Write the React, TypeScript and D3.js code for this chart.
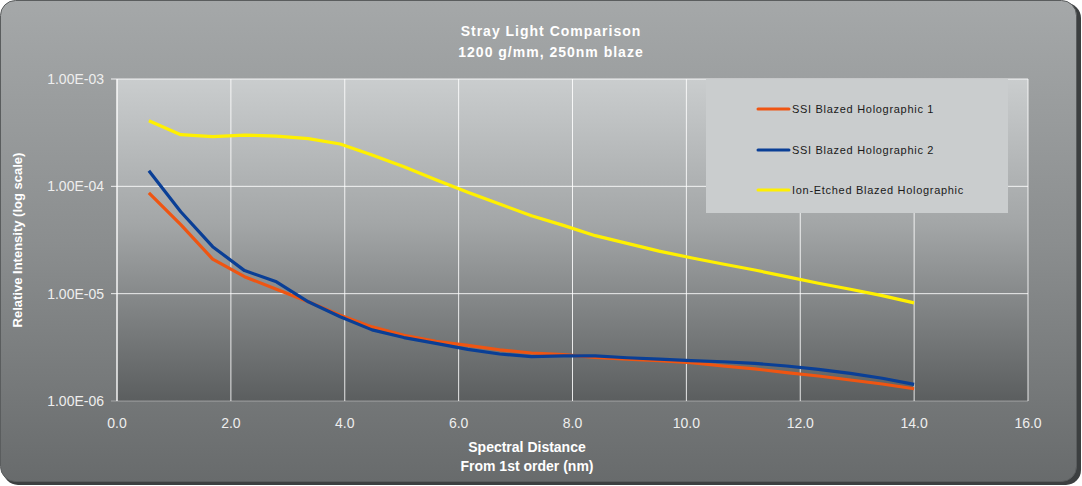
import * as d3 from "d3";

const WIDTH = 1082;
const HEIGHT = 486;
const PLOT = { left: 117, right: 1028, top: 79, bottom: 401 };

// Spectral distance from 1st order (nm), one sample every 0.56 nm.
const distances = [
  0.56, 1.12, 1.68, 2.24, 2.8, 3.36, 3.92, 4.48, 5.04, 5.6, 6.16, 6.72, 7.28,
  7.84, 8.4, 8.96, 9.52, 10.08, 10.64, 11.2, 11.76, 12.32, 12.88, 13.44, 14.0,
];

const ssiHolo1 = [
  8.7e-5, 4.4e-5, 2.1e-5, 1.44e-5, 1.1e-5, 8.4e-6, 6.3e-6, 4.9e-6, 4.1e-6,
  3.6e-6, 3.3e-6, 3.0e-6, 2.8e-6, 2.7e-6, 2.55e-6, 2.46e-6, 2.38e-6, 2.28e-6,
  2.12e-6, 1.99e-6, 1.84e-6, 1.71e-6, 1.57e-6, 1.44e-6, 1.3e-6,
];

const ssiHolo2 = [
  1.4e-4, 5.8e-5, 2.74e-5, 1.64e-5, 1.29e-5, 8.4e-6, 6.1e-6, 4.6e-6, 3.9e-6,
  3.44e-6, 3.03e-6, 2.74e-6, 2.59e-6, 2.63e-6, 2.63e-6, 2.53e-6, 2.46e-6,
  2.38e-6, 2.32e-6, 2.24e-6, 2.12e-6, 1.97e-6, 1.81e-6, 1.63e-6, 1.43e-6,
];

const ionEtched = [
  4.08e-4, 3.03e-4, 2.9e-4, 3.0e-4, 2.94e-4, 2.78e-4, 2.48e-4, 1.96e-4,
  1.52e-4, 1.15e-4, 8.8e-5, 6.84e-5, 5.32e-5, 4.33e-5, 3.47e-5, 2.94e-5,
  2.49e-5, 2.16e-5, 1.89e-5, 1.66e-5, 1.44e-5, 1.25e-5, 1.1e-5, 9.6e-6, 8.2e-6,
];

const seriesNames = [
  "SSI Blazed Holographic 1",
  "SSI Blazed Holographic 2",
  "Ion-Etched Blazed Holographic",
];
const seriesColors = ["#ef5512", "#0a3f96", "#fff000"];
const seriesValues = [ssiHolo1, ssiHolo2, ionEtched];

const xTicks = [0, 2, 4, 6, 8, 10, 12, 14, 16];
const yTicks = [1e-3, 1e-4, 1e-5, 1e-6];

const titleLines = ["Stray Light Comparison", "1200 g/mm, 250nm blaze"];
const xTitleLines = ["Spectral Distance", "From 1st order (nm)"];
const yTitle = "Relative Intensity (log scale)";

const FONT = "'Liberation Sans', Arial, sans-serif";

// Excel-style "1.00E-03"
function sci(v: number) {
  const exp = Math.round(Math.log10(v));
  const mant = v / Math.pow(10, exp);
  const sign = exp < 0 ? "-" : "+";
  return `${mant.toFixed(2)}E${sign}${String(Math.abs(exp)).padStart(2, "0")}`;
}

export default function App() {
  const x = d3.scaleLinear().domain([0, 16]).range([PLOT.left, PLOT.right]);
  const y = d3.scaleLog().domain([1e-6, 1e-3]).range([PLOT.bottom, PLOT.top]);
  const line = d3
    .line<number>()
    .x((_, i) => x(distances[i]))
    .y((v) => y(v));

  const legend = { x: 706, y: 79, w: 302, h: 134 };
  const legendRows = [109, 150, 190];

  return (
    <svg
      width={WIDTH}
      height={HEIGHT}
      viewBox={`0 0 ${WIDTH} ${HEIGHT}`}
      style={{ position: "absolute", left: 0, top: 0, display: "block" }}
    >
      <defs>
        <linearGradient id="panelBg" x1="0" y1="0" x2="0" y2="1">
          <stop offset="0" stopColor="#a5a8a9" />
          <stop offset="0.5" stopColor="#8b8e8f" />
          <stop offset="1" stopColor="#686b6c" />
        </linearGradient>
        <linearGradient id="plotBg" x1="0" y1="0" x2="0" y2="1">
          <stop offset="0" stopColor="#cacdce" />
          <stop offset="0.45" stopColor="#a3a6a7" />
          <stop offset="1" stopColor="#5b5e5f" />
        </linearGradient>
      </defs>

      <rect width={WIDTH} height={HEIGHT} fill="#ffffff" />
      <rect x={3} y={3} width={1078} height={482} rx={15} fill="#3c3f40" />
      <rect
        x={0.5}
        y={0.5}
        width={1076}
        height={481}
        rx={15}
        fill="url(#panelBg)"
        stroke="#5a5d5e"
      />

      {/* title */}
      {titleLines.map((t, i) => (
        <text
          key={t}
          x={551}
          y={36 + i * 21}
          textAnchor="middle"
          fill="#ffffff"
          fontFamily={FONT}
          fontWeight="bold"
          fontSize={14}
          letterSpacing={1}
        >
          {t}
        </text>
      ))}

      {/* plot area */}
      <rect
        x={PLOT.left}
        y={PLOT.top}
        width={PLOT.right - PLOT.left}
        height={PLOT.bottom - PLOT.top}
        fill="url(#plotBg)"
      />

      {xTicks.map((t) => (
        <line
          key={`gx${t}`}
          x1={x(t)}
          x2={x(t)}
          y1={PLOT.top}
          y2={PLOT.bottom}
          stroke="#ffffff"
          strokeOpacity={0.85}
          strokeWidth={1}
        />
      ))}
      {yTicks.map((t) => (
        <line
          key={`gy${t}`}
          x1={PLOT.left - 6}
          x2={PLOT.right}
          y1={y(t)}
          y2={y(t)}
          stroke="#ffffff"
          strokeOpacity={t === 1e-6 ? 0.35 : 0.85}
          strokeWidth={1}
        />
      ))}
      <line
        x1={PLOT.left}
        x2={PLOT.left}
        y1={PLOT.top}
        y2={PLOT.bottom}
        stroke="#ffffff"
        strokeOpacity={0.9}
      />

      {/* y tick labels */}
      {yTicks.map((t) => (
        <text
          key={`ly${t}`}
          x={104}
          y={y(t)}
          dy="0.36em"
          textAnchor="end"
          fill="#eeeeee"
          fontFamily={FONT}
          fontSize={14}
          letterSpacing={0}
        >
          {sci(t)}
        </text>
      ))}

      {/* x tick labels */}
      {xTicks.map((t) => (
        <text
          key={`lx${t}`}
          x={x(t)}
          y={428}
          textAnchor="middle"
          fill="#eeeeee"
          fontFamily={FONT}
          fontSize={14}
          letterSpacing={0}
        >
          {t.toFixed(1)}
        </text>
      ))}

      {/* axis titles */}
      {xTitleLines.map((t, i) => (
        <text
          key={t}
          x={527}
          y={452 + i * 19}
          textAnchor="middle"
          fill="#ffffff"
          fontFamily={FONT}
          fontWeight="bold"
          fontSize={14}
        >
          {t}
        </text>
      ))}
      <text
        transform={`translate(22,${(PLOT.top + PLOT.bottom) / 2}) rotate(-90)`}
        textAnchor="middle"
        fill="#ffffff"
        fontFamily={FONT}
        fontWeight="bold"
        fontSize={13}
      >
        {yTitle}
      </text>

      {/* series */}
      {seriesValues.map((vals, i) => (
        <path
          key={seriesNames[i]}
          d={line(vals) ?? ""}
          fill="none"
          stroke={seriesColors[i]}
          strokeWidth={3.2}
          strokeLinejoin="round"
        />
      ))}

      {/* legend */}
      <rect
        x={legend.x}
        y={legend.y}
        width={legend.w}
        height={legend.h}
        fill="#cacdce"
      />
      {seriesNames.map((name, i) => (
        <g key={`lg${name}`}>
          <line
            x1={758}
            x2={789}
            y1={legendRows[i]}
            y2={legendRows[i]}
            stroke={seriesColors[i]}
            strokeWidth={3}
            strokeLinecap="round"
          />
          <text
            x={792}
            y={legendRows[i]}
            dy="0.36em"
            fill="#1a1a1a"
            fontFamily={FONT}
            fontSize={11}
            letterSpacing={0.7}
          >
            {name}
          </text>
        </g>
      ))}
    </svg>
  );
}
